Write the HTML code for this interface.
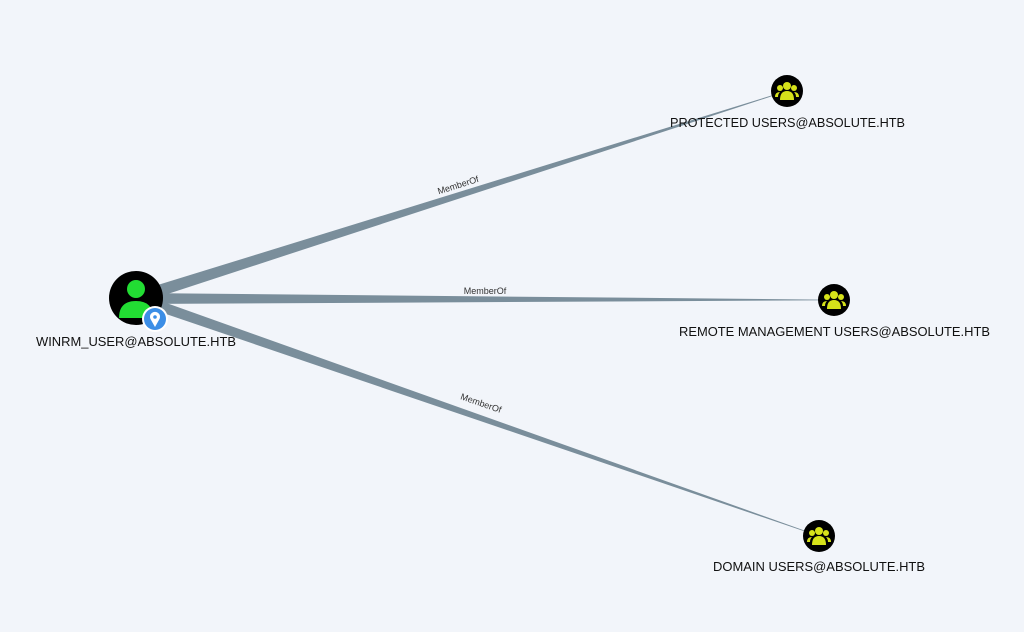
<!DOCTYPE html>
<html><head><meta charset="utf-8"><style>
html,body{margin:0;padding:0;background:#f2f5fa;width:1024px;height:632px;overflow:hidden}
svg text{font-family:"Liberation Sans",sans-serif}
</style></head><body>
<svg width="1024" height="632" viewBox="0 0 1024 632" xmlns="http://www.w3.org/2000/svg">
<rect width="1024" height="632" fill="#f2f5fa"/>
<g fill="#7a8e9b">
<polygon points="137.8,303.7 134.2,292.3 786.9,90.7 787.1,91.3"/>
<polygon points="136,293 136,304 834,300.3 834,299.7"/>
<polygon points="134.35,303.2 137.65,292.8 819.1,535.7 818.9,536.3"/>
</g>
<g font-size="9" fill="#333" text-anchor="middle">
<text transform="translate(459,188) rotate(-17.6)">MemberOf</text>
<text x="485" y="294">MemberOf</text>
<text transform="translate(480,406) rotate(19.2)">MemberOf</text>
</g>
<circle cx="136" cy="298" r="27" fill="#000"/>
<circle cx="136" cy="289" r="9" fill="#22dd33"/>
<path d="M119,318 Q119,301 136,301 Q153,301 153,318 Z" fill="#22dd33"/>
<circle cx="155" cy="319" r="13" fill="#fff"/>
<circle cx="155" cy="319" r="11" fill="#3c8ee6"/>
<path d="M155,327 L150.5,319 A5,5 0 1 1 159.5,319 Z" fill="#fff"/>
<circle cx="155" cy="317" r="1.8" fill="#3c8ee6"/>
<defs>
<g id="grp">
<circle r="16" fill="#000"/>
<circle cx="0" cy="-5" r="4" fill="#d6e21a"/>
<circle cx="-7" cy="-3" r="3" fill="#d6e21a"/>
<circle cx="7" cy="-3" r="3" fill="#d6e21a"/>
<path d="M-7,9 Q-7,0 0,0 Q7,0 7,9 Z" fill="#d6e21a"/>
<path d="M-12,6 Q-12,1 -7,1 Q-9,3 -9,6 Z" fill="#d6e21a"/>
<path d="M12,6 Q12,1 7,1 Q9,3 9,6 Z" fill="#d6e21a"/>
</g>
</defs>
<use href="#grp" x="787" y="91"/>
<use href="#grp" x="834" y="300"/>
<use href="#grp" x="819" y="536"/>
<g font-size="12.5" fill="#111">
<text x="36" y="346" textLength="200" lengthAdjust="spacingAndGlyphs">WINRM_USER@ABSOLUTE.HTB</text>
<text x="670" y="127" textLength="235" lengthAdjust="spacingAndGlyphs">PROTECTED USERS@ABSOLUTE.HTB</text>
<text x="679" y="336" textLength="311" lengthAdjust="spacingAndGlyphs">REMOTE MANAGEMENT USERS@ABSOLUTE.HTB</text>
<text x="713" y="571" textLength="212" lengthAdjust="spacingAndGlyphs">DOMAIN USERS@ABSOLUTE.HTB</text>
</g>
</svg>
</body></html>
